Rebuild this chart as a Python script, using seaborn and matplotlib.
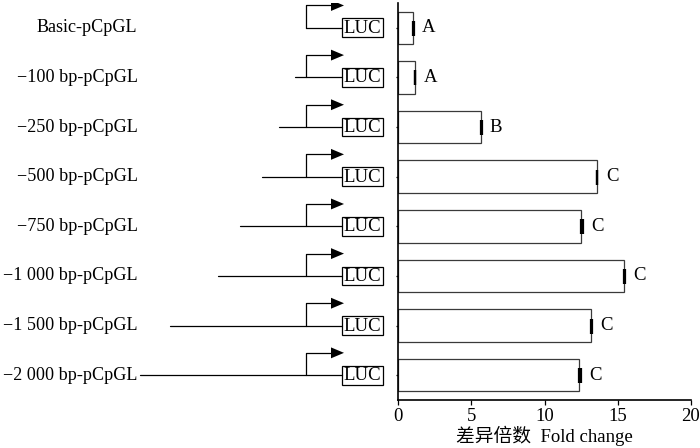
import numpy as np, pandas as pd
import matplotlib as mpl, matplotlib.pyplot as plt
import seaborn as sns
from matplotlib.patches import Rectangle

sns.set_theme(style='ticks')
plt.rcParams['font.family'] = ['Liberation Serif', 'Noto Sans CJK SC', 'DejaVu Sans']
plt.rcParams['axes.unicode_minus'] = True

#%% data
constructs = ['Basic-pCpGL', '\u2212100 bp-pCpGL', '\u2212250 bp-pCpGL', '\u2212500 bp-pCpGL',
              '\u2212750 bp-pCpGL', '\u22121 000 bp-pCpGL', '\u22121 500 bp-pCpGL',
              '\u22122 000 bp-pCpGL']
fold_change = [0.98, 1.12, 5.63, 13.55, 12.5, 15.45, 13.15, 12.33]
fold_err = [0.06, 0.05, 0.06, 0.06, 0.1, 0.06, 0.08, 0.15]
groups = ['A', 'A', 'B', 'C', 'C', 'C', 'C', 'C']
# drawn length of upstream promoter line in the schematic (pixels)
upstream = [0, 11, 27, 44, 66, 88, 136, 166]

df = pd.DataFrame({'construct': constructs, 'fold': fold_change})

#%% layout
W, H = 700, 448
fig = plt.figure(figsize=(7, 4.48), dpi=100)
ax_l, ax_r, ax_b, ax_t = 398.3, 691, 400, 3
ax = fig.add_axes([ax_l/W, 1 - ax_b/H, (ax_r - ax_l)/W, (ax_b - ax_t)/H])
axd = fig.add_axes([0, 1 - ax_b/H, ax_l/W, (ax_b - ax_t)/H])

fs = 13.5
lw = 0.9

sns.barplot(data=df, x='fold', y='construct', orient='h', color='white',
            edgecolor='#3a3a3a', linewidth=lw, width=0.656, saturation=1,
            errorbar=None, ax=ax)
ypos = np.arange(len(constructs))
ax.errorbar(fold_change, ypos, xerr=[np.zeros(len(fold_err)), fold_err],
            fmt='none', ecolor='black', elinewidth=1, capsize=5.4, capthick=1.6)
for y, v, e, g in zip(ypos, fold_change, fold_err, groups):
    ax.annotate(g, (v + e, y), xytext=(6, 0), textcoords='offset points',
                ha='left', va='center', fontsize=fs, color='black')

ax.set_xlim(0, 20)
ax.set_ylim(len(constructs) - 0.5, -0.5)
ax.set_xticks([0, 5, 10, 15, 20])
ax.set_yticks(ypos)
ax.set_yticklabels([])
ax.set_ylabel('')
ax.set_xlabel('差异倍数  Fold change', fontsize=fs, color='black', labelpad=1)
ax.tick_params(axis='x', direction='out', length=3.5, width=lw, labelsize=fs,
               colors='black', pad=2)
ax.tick_params(axis='y', direction='out', length=1.5, width=lw, colors='black')
for s in ['top', 'right']:
    ax.spines[s].set_visible(False)
for s in ['left', 'bottom']:
    ax.spines[s].set_color('black')
    ax.spines[s].set_linewidth(1.2)
ax.set_facecolor('none')

#%% promoter / LUC schematic
axd.set_xlim(0, ax_l)
axd.set_ylim(len(constructs) - 0.5, -0.5)
axd.axis('off')
prom_x, box_x, box_w = 306, 341.5, 41.5
rise = 0.45
for y, up, name in zip(ypos, upstream, constructs):
    axd.plot([prom_x - up, box_x], [y, y], color='black', lw=lw)
    axd.plot([prom_x, prom_x, 331], [y, y - rise, y - rise], color='black', lw=lw)
    axd.fill([331, 344, 331], [y - rise - 0.11, y - rise, y - rise + 0.11],
             color='black', lw=0)
    axd.add_patch(Rectangle((box_x, y - 0.19), box_w, 0.38, fill=False,
                            edgecolor='black', lw=lw))
    axd.text(box_x + box_w/2, y + 0.01, 'LUC', ha='center', va='center',
             fontsize=fs, color='black')
    axd.text(137.5, y, name, ha='right', va='center', fontsize=13.05, color='black')

fig.savefig('out.png', dpi=100, facecolor='white')
